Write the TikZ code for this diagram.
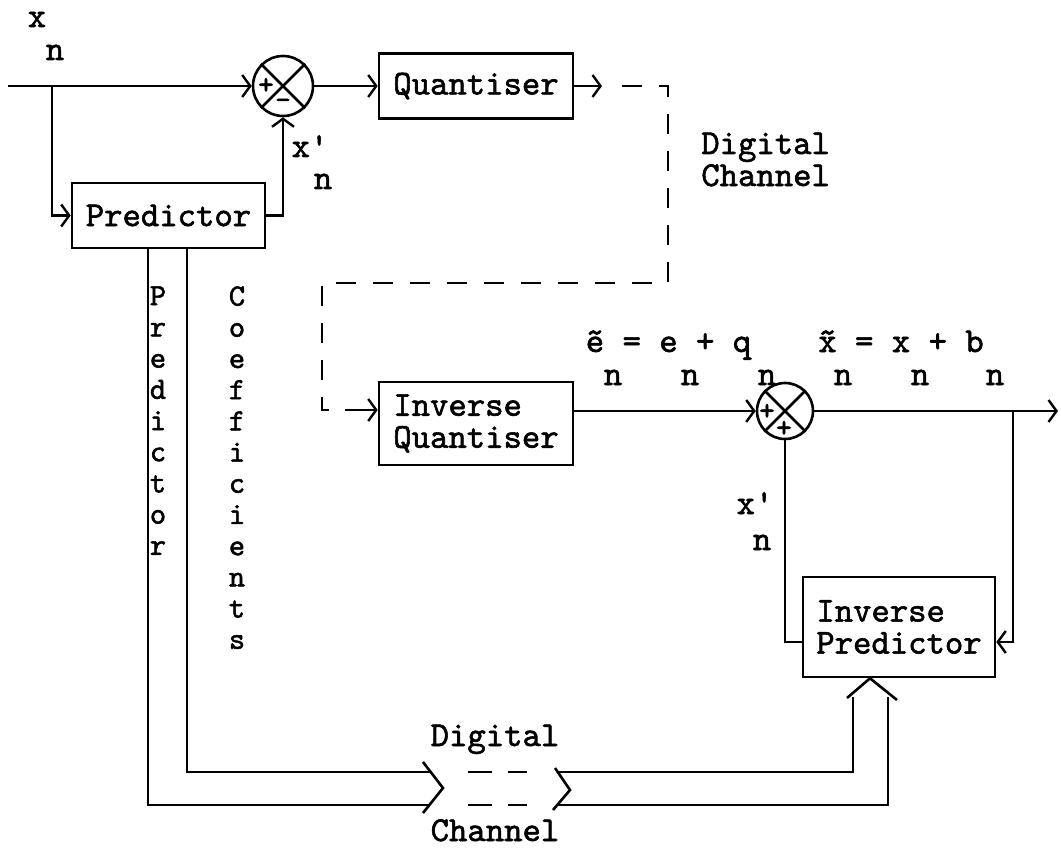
\documentclass[tikz,border=0pt]{standalone}
\usepackage{fontspec}
\newfontfamily\mono[FakeBold=1.6]{lmmono10-regular.otf}
\usetikzlibrary{arrows.meta}
\begin{document}
\begin{tikzpicture}[x=1pt,y=-1pt,
  font=\mono\fontsize{35}{32}\selectfont,
  line width=2.6pt,
  blk/.style={draw, inner sep=0pt, align=left},
  arr/.style={-{Straight Barb[length=8pt,width=22pt,line width=2.4pt]}},
  lbl/.style={inner sep=0pt, anchor=base},
  vlbl/.style={inner sep=0pt, anchor=north, align=center, font=\mono\fontsize{31}{31.2}\selectfont},
  sgn/.style={inner sep=0pt, font=\mono\fontsize{30}{30}\selectfont},
  sumj/.style={draw, circle, inner sep=0pt},
  chan/.style={dash pattern=on 20pt off 17pt, dash phase=20pt}
]
\useasboundingbox (0,0) rectangle (1061,848);

% blocks
\node[blk, minimum width=193pt, minimum height=65pt] (pred) at (168.5,215.5) {Predictor};
\node[blk, minimum width=194pt, minimum height=65pt] (quant) at (476,86) {Quantiser};
\node[blk, minimum width=194pt, minimum height=83pt] (iquant) at (476,423.5) {Inverse\\Quantiser};
\node[blk, minimum width=192pt, minimum height=100pt] (ipred) at (899,627) {Inverse\\Predictor};

% summing junctions
\node[sumj, minimum size=60pt] (s1) at (283,86) {};
\draw (s1.north west) -- (s1.south east) (s1.north east) -- (s1.south west);
\node[sgn] (s1p) at ([shift={(-17,0)}]s1.center) {+};
\node[sgn] (s1m) at ([shift={(0,18)}]s1.center) {-};

\node[sumj, minimum size=56pt] (s2) at (785,411) {};
\draw (s2.north west) -- (s2.south east) (s2.north east) -- (s2.south west);
\node[sgn] (s2p) at ([shift={(-18,1)}]s2.center) {+};
\node[sgn] (s2q) at ([shift={(-1,18)}]s2.center) {+};

% coordinates
\coordinate (in) at (8,86);
\coordinate (br1) at (52,86);
\coordinate (qa) at (602,86);
\coordinate (qd) at (605,86);
\coordinate (dq) at (345,410);
\coordinate (out) at (1058,411);
\coordinate (br2) at (1013,411);

% encoder connectors
\draw (in) -- (br1);
\draw[arr] (br1) -- (s1.west);
\draw[arr] (br1) |- (pred.west);
\draw[arr] (pred.east) -| (s1.south);
\draw[arr] (s1.east) -- (quant.west);
\draw[arr] (quant.east) -- (qa);

% digital channel (dashed)
\draw[chan] (qd) -- (668,86) -- (668,283) -- (322,283) -- (322,410) -- (dq);
\draw[arr] (dq) -- (dq -| iquant.west);

% decoder connectors
\draw[arr] (iquant.east |- s2.west) -- (s2.west);
\draw[arr] (s2.east) -- (out);
\draw[arr] (br2) -- (br2 |- 0,642) -- (ipred.east |- 0,642);
\draw (ipred.west |- 0,642) -| (s2.south);

% predictor coefficients double path
\draw (pred.south -| 148,0) |- (430,805);
\draw (pred.south -| 187,0) |- (431,772);
\draw (423,762) -- (443,788) -- (423,813);
\draw (468,772) -- (492,772) (508,772) -- (527,772);
\draw (468,805) -- (492,805) (508,805) -- (527,805);
\draw (555,768) -- (570,790) -- (553,810);
\draw (558,772) -| (853,697);
\draw (557,805) -| (888,697);
\draw (847,698) -- (ipred.south -| 870,0) -- (897,700);

% labels
\node[lbl] (xn) at (37,27) {x};
\node[lbl] (xnn) at (55,60) {n};
\node[lbl] (xp1) at (310,157) {x{\char"27}};
\node[lbl] (xp1n) at (323,189) {n};
\node[lbl] (xp2) at (755,514) {x{\char"27}};
\node[lbl] (xp2n) at (762,550) {n};
\node[lbl, anchor=base west] (dc1) at (700,154) {Digital};
\node[lbl, anchor=base west] (dc2) at (700,186) {Channel};
\node[lbl] (dc3) at (495,746) {Digital};
\node[lbl] (dc4) at (495,841) {Channel};
\node[lbl] (eq1) at (668.5,352) {\~{e} = e + q};
\node[lbl] (eq2) at (901,352) {\~{x} = x + b};
\foreach \px [count=\i] in {613,690,767,843,920,995}
  \node[lbl] (sub\i) at (\px,385) {n};
\node[vlbl] (pv) at (158,285) {P\\r\\e\\d\\i\\c\\t\\o\\r};
\node[vlbl] (cv) at (237,285) {C\\o\\e\\f\\f\\i\\c\\i\\e\\n\\t\\s};
\end{tikzpicture}
\end{document}
